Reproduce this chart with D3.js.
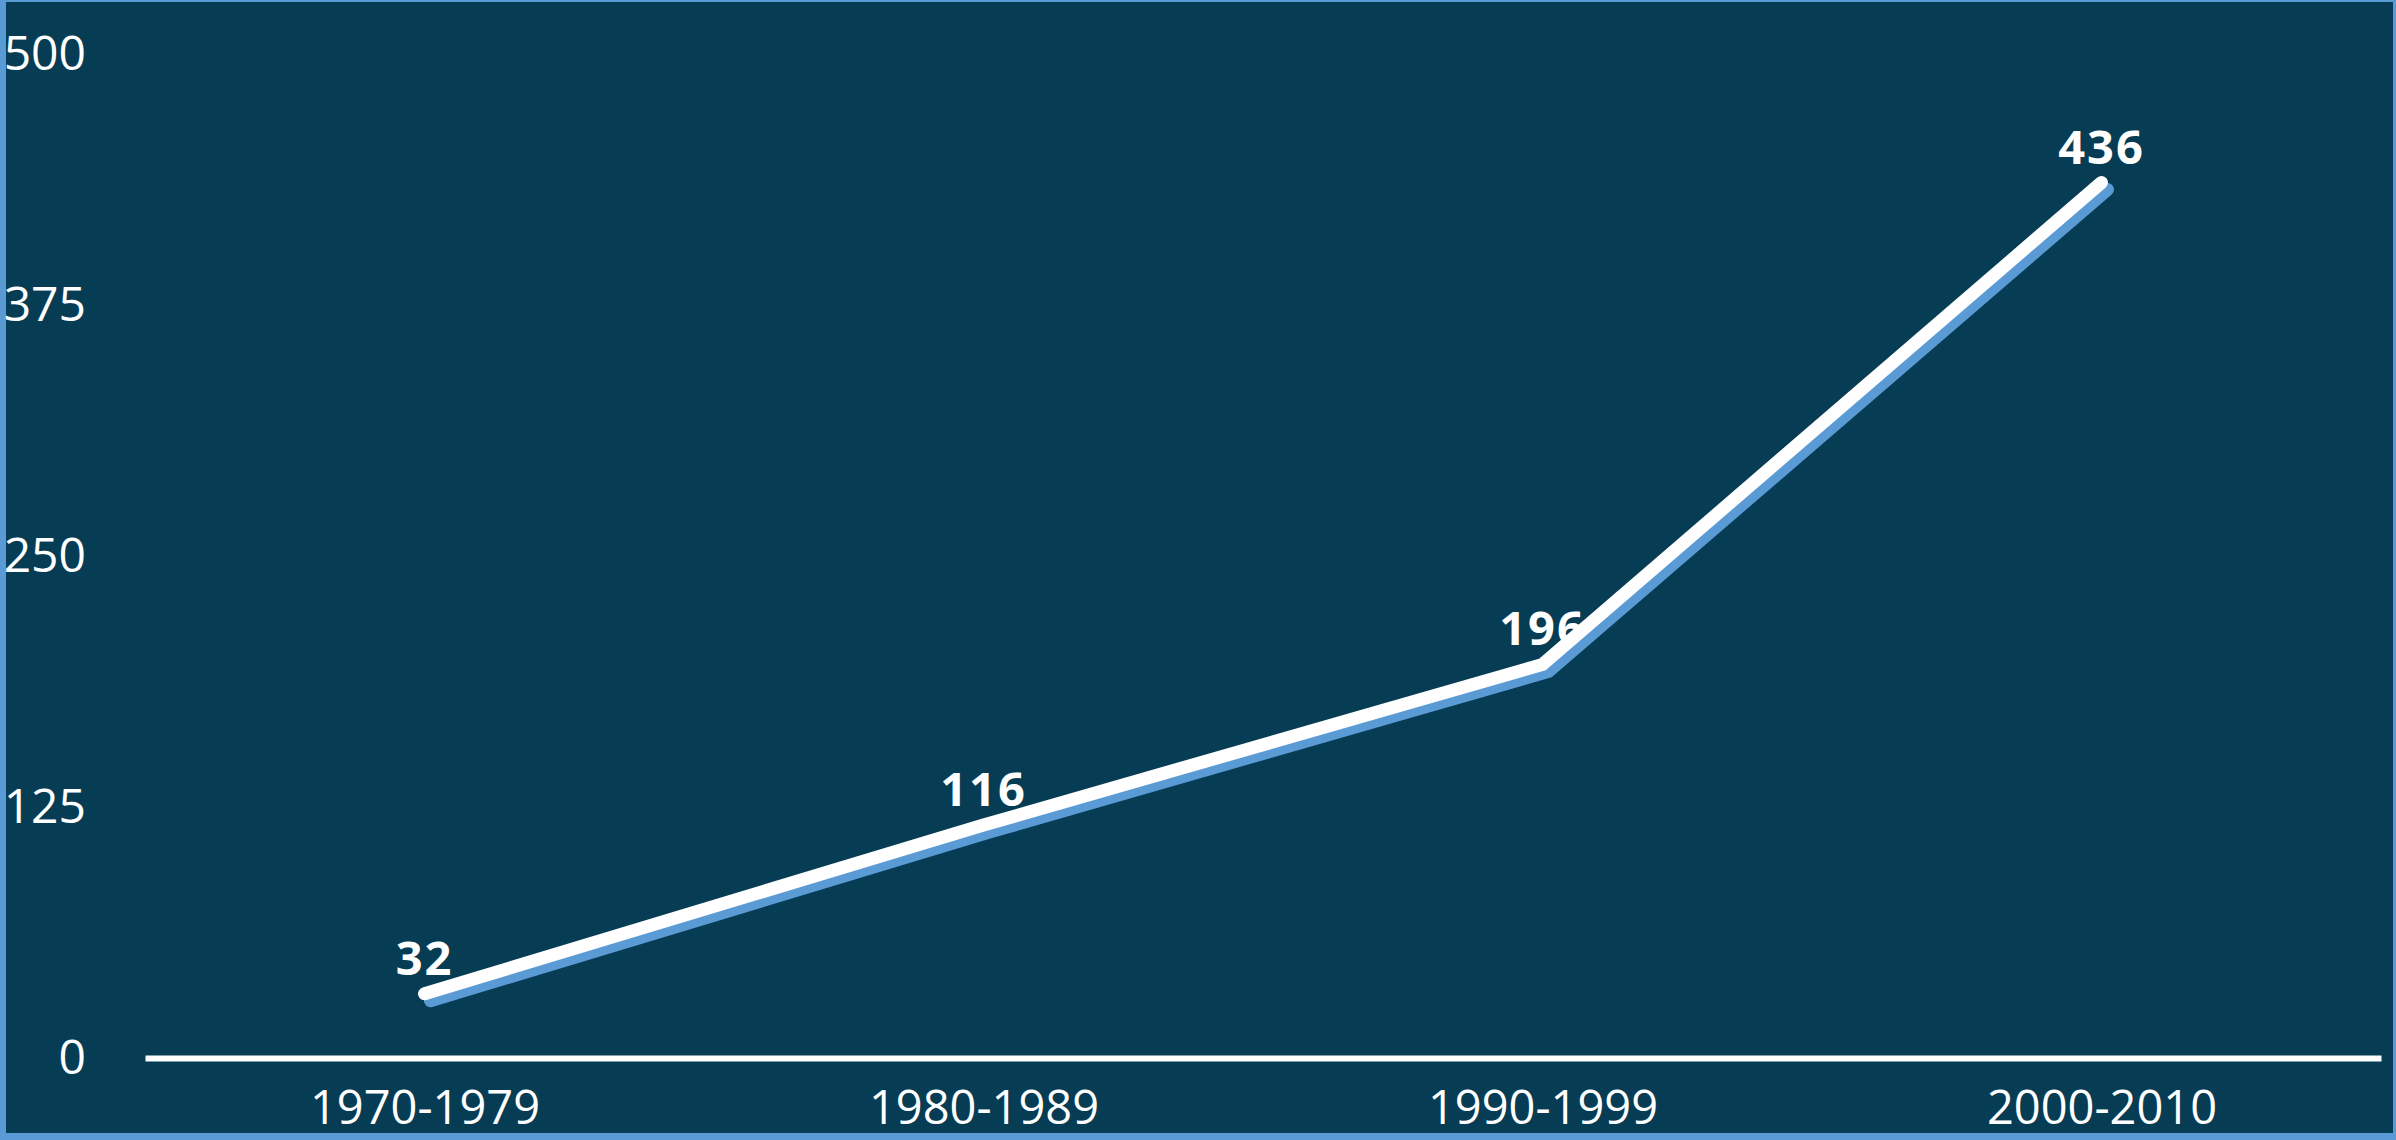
<!DOCTYPE html>
<html>
<head>
<meta charset="utf-8">
<script src="https://cdn.jsdelivr.net/npm/d3@7"></script>
<style>
  html, body { margin: 0; padding: 0; background: #063c54; }
  svg { display: block; }
</style>
</head>
<body>
<svg id="chart" width="2396" height="1140"></svg>
<script>
const categories = ["1970-1979", "1980-1989", "1990-1999", "2000-2010"];
const values = [32, 116, 196, 436];
const yTicks = [0, 125, 250, 375, 500];

const W = 2396, H = 1140;
const svg = d3.select("#chart");
const font = "'Open Sans', 'Liberation Sans', sans-serif";

// frame
svg.append("rect").attr("x", 0).attr("y", 0).attr("width", W).attr("height", H).attr("fill", "#5b9bd5");
svg.append("rect").attr("x", 6).attr("y", 2).attr("width", W - 9).attr("height", H - 9).attr("fill", "#063c54");

const x = d3.scalePoint().domain(categories).range([145, 2381]).padding(0.5);
const y = d3.scaleLinear().domain([0, 500]).range([1058, 54]);

// Y axis labels
const yAxis = svg.append("g")
  .attr("transform", "translate(86,0)")
  .call(d3.axisLeft(y).tickValues(yTicks).tickSize(0).tickPadding(0).tickFormat(d3.format("d")));
yAxis.select(".domain").remove();
yAxis.selectAll("text")
  .attr("fill", "#ffffff")
  .style("font-family", font)
  .style("font-size", "48px");

// Data labels (drawn beneath the lines)
svg.append("g").selectAll("text")
  .data(values)
  .join("text")
  .attr("x", (d, i) => x(categories[i]))
  .attr("y", d => y(d) - 19)
  .attr("text-anchor", "middle")
  .attr("fill", "#ffffff")
  .style("font-family", font)
  .style("font-weight", "bold")
  .style("font-size", "47px")
  .style("letter-spacing", "2px")
  .text(d => d);

const line = d3.line()
  .x((d, i) => x(categories[i]))
  .y(d => y(d));

// shadow line
svg.append("path")
  .datum(values)
  .attr("d", line)
  .attr("transform", "translate(6,7)")
  .attr("fill", "none")
  .attr("stroke", "#5b9bd5")
  .attr("stroke-width", 13)
  .attr("stroke-linecap", "round")
  .attr("stroke-linejoin", "miter");

// main line
svg.append("path")
  .datum(values)
  .attr("d", line)
  .attr("fill", "none")
  .attr("stroke", "#ffffff")
  .attr("stroke-width", 13)
  .attr("stroke-linecap", "round")
  .attr("stroke-linejoin", "miter");

// X axis
const xAxis = svg.append("g")
  .attr("transform", `translate(0,${y(0)})`)
  .call(d3.axisBottom(x).tickSize(0).tickSizeOuter(0).tickPadding(33));
xAxis.select(".domain")
  .attr("stroke", "#ffffff")
  .attr("stroke-width", 6);
xAxis.selectAll("text")
  .attr("fill", "#ffffff")
  .style("font-family", font)
  .style("font-size", "47px");
</script>
</body>
</html>
